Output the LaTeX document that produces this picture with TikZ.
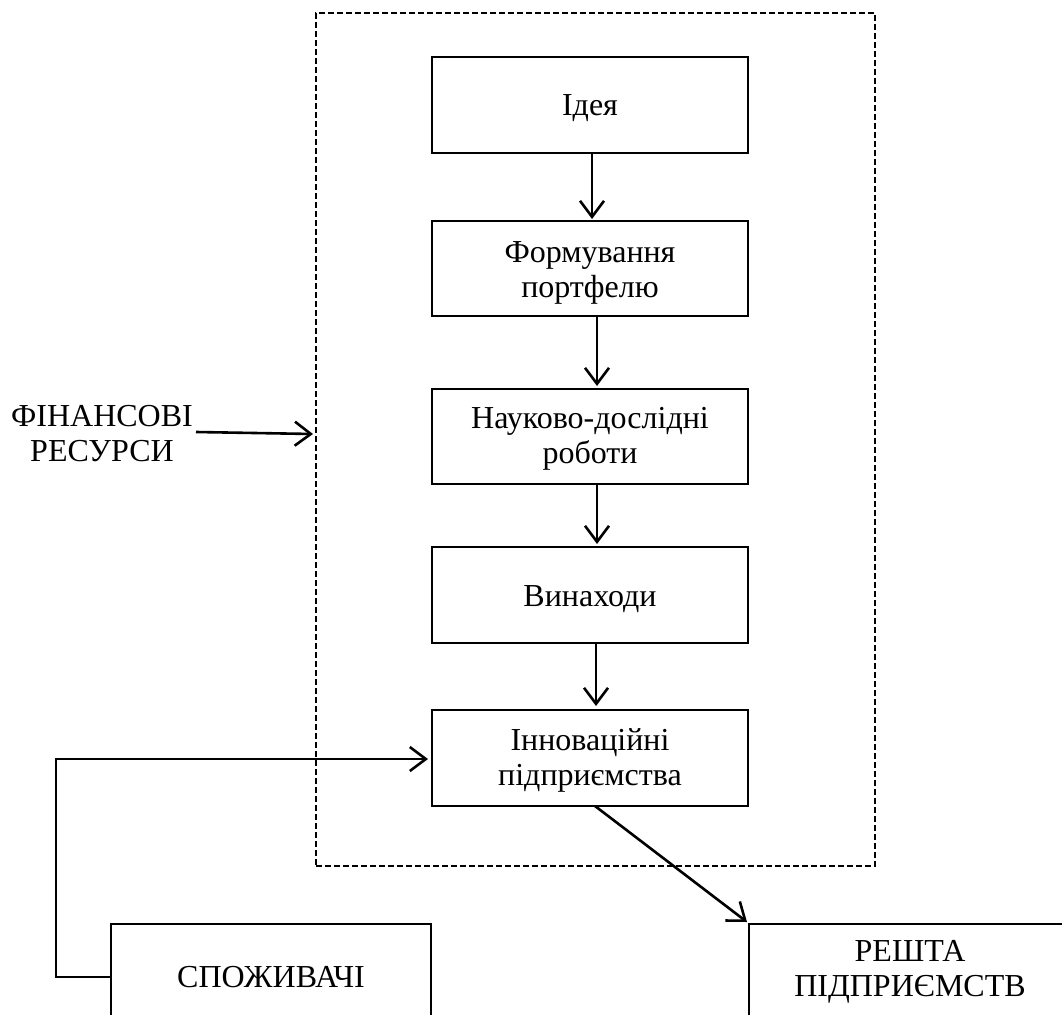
\documentclass[tikz,border=0pt]{standalone}
\usepackage{fontspec}
\setmainfont{Liberation Serif}
\usetikzlibrary{arrows.meta}
\newcommand{\lowtext}[2]{\raisebox{-#1}[\height][\depth]{\begin{tabular}{@{}c@{}}#2\end{tabular}}}
\begin{document}
\begin{tikzpicture}[x=1pt,y=-1pt,
  every node/.style={font=\fontsize{32}{35}\selectfont, align=center},
  stepbox/.style={draw, line width=1.6pt, minimum width=316pt, minimum height=96pt, inner sep=0pt},
  arr/.style={line width=2.6pt, -{Straight Barb[length=16pt,width=24pt,line width=2.6pt]}},
  framebox/.style={draw, line width=1.6pt, dash pattern=on 6pt off 3pt, minimum width=559pt, minimum height=853pt, inner sep=0pt}
]
\clip (0,0) rectangle (1062,1014);
\fill[white] (0,0) rectangle (1062,1014);
\node[framebox] (frame) at (595.5,439.5) {};
\node[stepbox] (b1) at (590,105) {\lowtext{4pt}{Ідея}};
\node[stepbox, minimum height=95pt] (b2) at (590,268.5) {\lowtext{4pt}{Формування\\портфелю}};
\node[stepbox, minimum height=95pt] (b3) at (590,436.5) {\lowtext{2pt}{Науково-дослідні\\роботи}};
\node[stepbox] (b4) at (590,595) {\lowtext{4pt}{Винаходи}};
\node[stepbox] (b5) at (590,758) {\lowtext{3pt}{Інноваційні\\підприємства}};
\node[draw, line width=1.6pt, minimum width=320pt, minimum height=106pt, inner sep=0pt] (spoz) at (271,977) {СПОЖИВАЧІ};
\node[draw, line width=1.6pt, minimum width=330pt, minimum height=106pt, inner sep=0pt] (resh) at (914,977) {};
\node[inner sep=0pt] (reshtext) at (910,972) {РЕШТА\\ПІДПРИЄМСТВ};
\node[inner sep=0pt] (fin) at (102,434) {ФІНАНСОВІ\\РЕСУРСИ};

\coordinate (a1s) at (592,153); \coordinate (a1e) at (592,219);
\coordinate (a2s) at (597,316); \coordinate (a2e) at (597,386);
\coordinate (a3s) at (597,484); \coordinate (a3e) at (597,544);
\coordinate (a4s) at (596,643); \coordinate (a4e) at (596,706);
\draw[arr] (a1s) -- (a1e);
\draw[arr] (a2s) -- (a2e);
\draw[arr] (a3s) -- (a3e);
\draw[arr] (a4s) -- (a4e);

\coordinate (fs) at (196,432); \coordinate (fe) at (313,434);
\draw[arr] (fs) -- (fe);

\coordinate (c1) at (56,977); \coordinate (c2) at (56,759); \coordinate (c3) at (428,759);
\draw[arr] (spoz.west) -- (c1) -- (c2) -- (c3);

\coordinate (ds) at (595,806); \coordinate (de) at (747,922);
\draw[arr] (ds) -- (de);
\end{tikzpicture}
\end{document}
